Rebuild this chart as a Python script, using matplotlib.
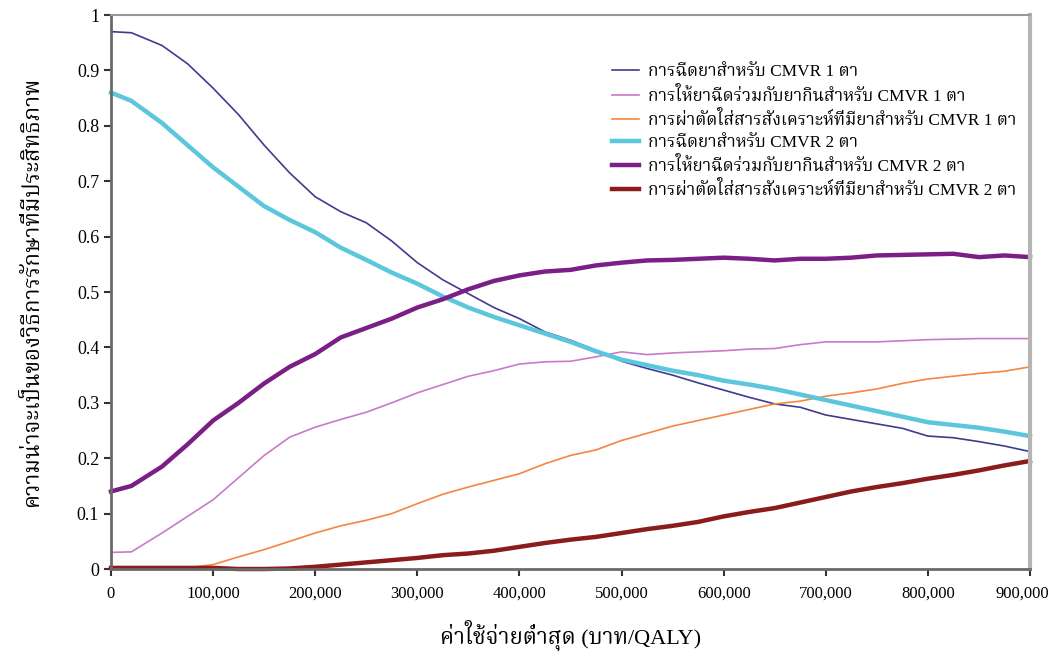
import matplotlib
matplotlib.use("Agg")
import matplotlib.pyplot as plt
import matplotlib.transforms as mtransforms
from matplotlib import font_manager, ft2font
from matplotlib.ticker import FuncFormatter, MultipleLocator

# cost threshold (thousand baht / QALY)
COST_K = [0, 20, 50, 75, 100, 125, 150, 175, 200, 225, 250, 275, 300, 325, 350,
          375, 400, 425, 450, 475, 500, 525, 550, 575, 600, 625, 650, 675, 700,
          725, 750, 775, 800, 825, 850, 875, 900]

INJ_1 = [0.970, 0.968, 0.945, 0.912, 0.868, 0.820, 0.765, 0.715, 0.672, 0.645,
         0.625, 0.592, 0.553, 0.522, 0.497, 0.472, 0.452, 0.428, 0.413, 0.395,
         0.375, 0.362, 0.350, 0.336, 0.323, 0.310, 0.298, 0.292, 0.278, 0.270,
         0.262, 0.254, 0.240, 0.237, 0.230, 0.222, 0.212]
COMBO_1 = [0.030, 0.031, 0.065, 0.095, 0.125, 0.165, 0.205, 0.238, 0.256, 0.270,
           0.283, 0.300, 0.318, 0.333, 0.348, 0.358, 0.370, 0.374, 0.375, 0.383,
           0.392, 0.387, 0.390, 0.392, 0.394, 0.397, 0.398, 0.405, 0.410, 0.410,
           0.410, 0.412, 0.414, 0.415, 0.416, 0.416, 0.416]
IMPLANT_1 = [0.000, 0.000, 0.000, 0.002, 0.008, 0.022, 0.035, 0.050, 0.065, 0.078,
             0.088, 0.100, 0.118, 0.135, 0.148, 0.160, 0.172, 0.190, 0.205, 0.215,
             0.232, 0.245, 0.258, 0.268, 0.278, 0.288, 0.298, 0.303, 0.312, 0.318,
             0.325, 0.335, 0.343, 0.348, 0.353, 0.357, 0.365]
INJ_2 = [0.860, 0.845, 0.805, 0.765, 0.725, 0.690, 0.655, 0.630, 0.608, 0.580,
         0.558, 0.535, 0.515, 0.492, 0.472, 0.455, 0.440, 0.425, 0.410, 0.393,
         0.378, 0.368, 0.358, 0.350, 0.340, 0.333, 0.325, 0.315, 0.305, 0.295,
         0.285, 0.275, 0.265, 0.260, 0.255, 0.248, 0.240]
COMBO_2 = [0.140, 0.150, 0.185, 0.225, 0.268, 0.300, 0.335, 0.365, 0.388, 0.418,
           0.435, 0.452, 0.472, 0.487, 0.505, 0.520, 0.530, 0.537, 0.540, 0.548,
           0.553, 0.557, 0.558, 0.560, 0.562, 0.560, 0.557, 0.560, 0.560, 0.562,
           0.566, 0.567, 0.568, 0.569, 0.563, 0.566, 0.563]
IMPLANT_2 = [0.002, 0.002, 0.002, 0.002, 0.002, 0.000, 0.000, 0.001, 0.004, 0.008,
             0.012, 0.016, 0.020, 0.025, 0.028, 0.033, 0.040, 0.047, 0.053, 0.058,
             0.065, 0.072, 0.078, 0.085, 0.095, 0.103, 0.110, 0.120, 0.130, 0.140,
             0.148, 0.155, 0.163, 0.170, 0.178, 0.187, 0.195]

X_TICKS = [0, 100000, 200000, 300000, 400000, 500000, 600000, 700000, 800000, 900000]

LABELS = [
    "การฉีดยาสำหรับ CMVR 1 ตา",
    "การให้ยาฉีดร่วมกับยากินสำหรับ CMVR 1 ตา",
    "การผ่าตัดใส่สารสังเคราะห์ที่มียาสำหรับ CMVR 1 ตา",
    "การฉีดยาสำหรับ CMVR 2 ตา",
    "การให้ยาฉีดร่วมกับยากินสำหรับ CMVR 2 ตา",
    "การผ่าตัดใส่สารสังเคราะห์ที่มียาสำหรับ CMVR 2 ตา",
]
X_LABEL = "ค่าใช้จ่ายต่ำสุด (บาท/QALY)"
Y_LABEL = "ความน่าจะเป็นของวิธีการรักษาที่มีประสิทธิภาพ"


def find_thai_font():
    """Pick an installed family that has Thai glyphs, serif ones first."""
    found = []
    for f in font_manager.fontManager.ttflist:
        try:
            cmap = ft2font.FT2Font(f.fname).get_charmap()
        except Exception:
            continue
        if 0x0E01 in cmap:
            found.append(f.name)
    if not found:
        return None
    prefs = ["Kinnari", "Norasi", "TH Sarabun New", "Noto Serif Thai", "Tlwg Typo"]
    for p in prefs:
        if p in found:
            return p
    for name in found:
        if "Serif" in name:
            return name
    return found[0]


thai = find_thai_font()
FAMILY = ["Liberation Serif"] + ([thai] if thai else []) + ["DejaVu Sans"]
plt.rcParams["font.family"] = FAMILY

series = [
    (INJ_1, "#3f3b8f", 1.2),
    (COMBO_1, "#c97ac9", 1.2),
    (IMPLANT_1, "#f5863f", 1.2),
    (INJ_2, "#5cc6dc", 3.2),
    (COMBO_2, "#7b1e86", 3.2),
    (IMPLANT_2, "#8b1c1c", 3.2),
]

fig = plt.figure(figsize=(10.54, 6.53), dpi=100, facecolor="white")
ax = fig.add_axes([0.1053, 0.1286, 0.8719, 0.8484])

x = [c * 1000 for c in COST_K]
for (vals, color, lw), label in zip(series, LABELS):
    ax.plot(x, vals, color=color, linewidth=lw, label=label, clip_on=False,
            solid_joinstyle="miter")

ax.set_xlim(0, 900000)
ax.set_ylim(0, 1)
ax.set_xticks(X_TICKS)
ax.yaxis.set_major_locator(MultipleLocator(0.1))
ax.xaxis.set_major_formatter(FuncFormatter(lambda v, p: f"{int(v):,}"))
ax.yaxis.set_major_formatter(FuncFormatter(lambda v, p: f"{v:g}"))
ax.tick_params(axis="both", direction="out", length=5, width=1.5,
               colors="#333333", labelcolor="black")
ax.tick_params(axis="y", labelsize=13)
ax.tick_params(axis="x", labelsize=12, pad=7)

ax.spines["left"].set_color("#6a6a6a")
ax.spines["left"].set_linewidth(2)
ax.spines["bottom"].set_color("#6a6a6a")
ax.spines["bottom"].set_linewidth(2)
ax.spines["top"].set_color("#999999")
ax.spines["top"].set_linewidth(1.5)
ax.spines["right"].set_color("#b5b5b5")
ax.spines["right"].set_linewidth(3)

ax.set_xlabel(X_LABEL, fontsize=16, labelpad=13)
ax.set_ylabel(Y_LABEL, fontsize=16, labelpad=24)

ax.legend(loc="upper left", bbox_to_anchor=(0.574, 0.912),
          bbox_transform=fig.transFigure, frameon=False, fontsize=12.4,
          handlelength=1.6, handletextpad=0.5, labelspacing=0.36,
          borderaxespad=0)

# nudge the last x tick label left so it stays inside the canvas
last = ax.xaxis.get_major_ticks()[len(X_TICKS) - 1].label1
last.set_transform(last.get_transform() +
                   mtransforms.ScaledTranslation(-0.08, 0, fig.dpi_scale_trans))

fig.savefig("out.png", dpi=100, facecolor="white")
